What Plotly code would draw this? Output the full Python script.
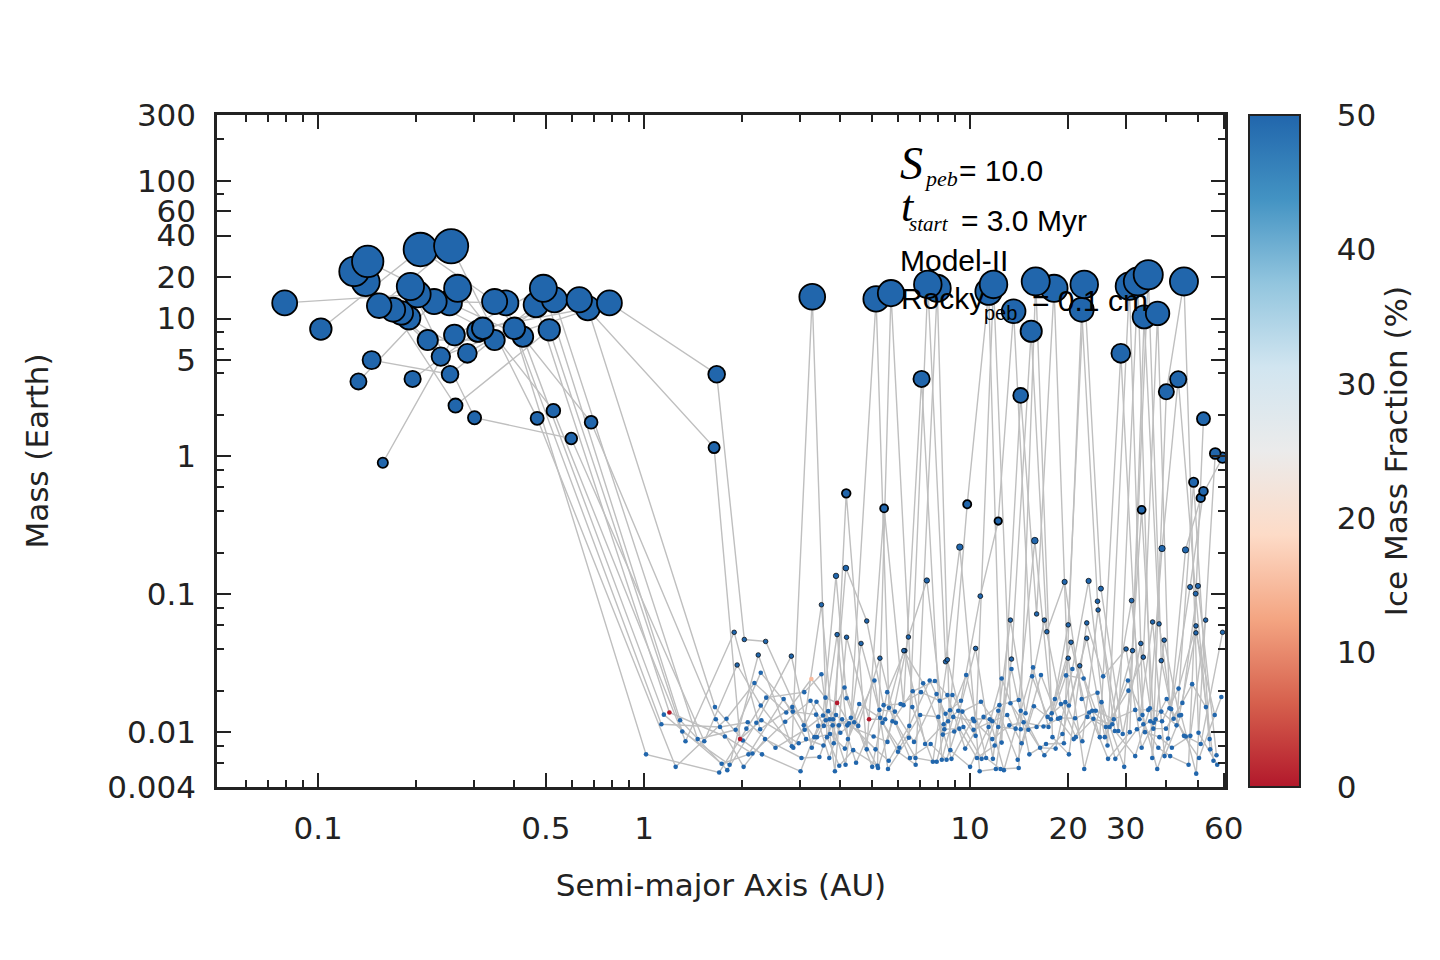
import numpy as np
import plotly.graph_objects as go

# final planets: semi-major axis (AU), mass (Earth), ice mass fraction (%)
inner_a = [0.079, 0.102, 0.129, 0.142, 0.140, 0.154, 0.206, 0.256, 0.146, 0.133, 0.158,
           0.192, 0.202, 0.180, 0.190, 0.170, 0.227, 0.268, 0.253, 0.195, 0.254, 0.264,
           0.302, 0.217, 0.238, 0.262, 0.287, 0.320, 0.348, 0.377, 0.309, 0.348, 0.400,
           0.425, 0.491, 0.466, 0.512, 0.531, 0.633, 0.672, 0.783, 0.470, 0.527, 0.598,
           0.688, 1.67, 1.64]
inner_m = [13.0, 8.4, 22, 26, 18.4, 12.4, 31.7, 33.5, 5.0, 3.5, 0.90,
           17.1, 15, 11, 10.1, 11.6, 13.3, 16.6, 13, 3.65, 3.95, 2.34,
           1.91, 7.0, 5.3, 7.6, 5.6, 8.5, 13.3, 13, 8.1, 7.0, 8.5,
           7.4, 16.6, 12.6, 8.3, 13.7, 13.7, 11.9, 13.0, 1.89, 2.15, 1.35,
           1.77, 3.95, 1.16]

outer_big_a = [3.28, 5.15, 5.72, 7.42, 7.93, 11.4, 11.8, 13.6, 15.4, 15.9, 18.1, 22.4,
               22.0, 30.8, 32.7, 35.2, 34.2, 37.6, 45.3, 29.0,
               7.1, 14.3, 40.0, 43.5, 52.0, 56.5, 59.5, 48.5, 52.0, 51.0, 4.17, 5.45,
               9.8, 12.2, 9.3, 15.8, 38.8, 45.8, 33.6]
outer_big_m = [14.4, 13.9, 15.3, 17.7, 16.6, 15.7, 17.7, 11.3, 8.1, 18.6, 16.6, 17.7,
               11.6, 17.2, 18.6, 20.8, 10.3, 10.9, 18.6, 5.6,
               3.65, 2.77, 2.95, 3.63, 1.88, 1.05, 0.98, 0.65, 0.56, 0.50, 0.54, 0.42,
               0.45, 0.34, 0.22, 0.245, 0.215, 0.21, 0.41]

mid_a = [3.88, 4.16, 7.37, 10.75, 19.5, 23.1, 25.2, 24.6, 24.7, 31.3, 47.3, 50.0, 49.2,
         3.5, 4.82, 52.8, 49.3, 49.3, 59.5, 13.3, 16.0, 16.9, 17.2, 20.0, 22.8, 22.8,
         36.3, 38.0, 31.5, 34.0, 59.0, 6.47, 6.31, 1.89, 3.91, 4.18]
mid_m = [0.136, 0.155, 0.126, 0.097, 0.123, 0.125, 0.11, 0.089, 0.077, 0.09, 0.113, 0.115, 0.101,
         0.084, 0.064, 0.065, 0.059, 0.0525, 0.053, 0.065, 0.072, 0.065, 0.0535, 0.060, 0.062, 0.048,
         0.063, 0.061, 0.039, 0.035, 0.018, 0.049, 0.039, 0.053, 0.051, 0.0488]

small_a = [1.014, 1.13, 1.15, 1.196, 1.25, 1.29, 1.31, 1.34, 1.46, 1.53, 1.65, 1.66, 1.70, 1.71,
           1.73, 1.77, 1.79, 1.80, 1.83, 1.91, 1.93, 1.97, 2.01, 2.02, 2.03, 2.06, 2.08, 2.09,
           2.15, 2.18, 2.21, 2.24, 2.28, 2.28, 2.29, 2.27, 2.30, 2.36, 2.35, 2.37, 2.53, 2.68,
           2.71, 2.73, 2.83, 2.84, 2.85, 2.86, 2.87, 2.98, 3.02, 3.04, 3.10, 3.09, 3.11, 3.14,
           3.24, 3.26, 3.27, 3.33, 3.38, 3.37, 3.39, 3.42, 3.45, 3.50, 3.54, 3.55, 3.56, 3.60,
           3.61, 3.64, 3.67, 3.70, 3.71, 3.72, 3.79, 3.80, 3.82, 3.85, 3.88, 3.91, 3.96, 3.97,
           4.00, 4.05, 4.12, 4.13, 4.15, 4.18, 4.20, 4.22, 4.25, 4.31, 4.38, 4.41, 4.47, 4.54,
           4.57, 4.63, 4.82, 4.90, 5.01, 5.06, 5.09, 5.13, 5.20, 5.22, 5.27, 5.29, 5.30, 5.39,
           5.43, 5.49, 5.57, 5.58, 5.60, 5.63, 5.64, 5.78, 5.88, 5.92, 6.01, 6.07, 6.12, 6.26,
           6.25, 6.49, 6.51, 6.54, 6.65, 6.67, 6.73, 6.81, 6.80, 7.03, 7.07, 7.18, 7.28, 7.52,
           7.57, 7.69, 7.80, 7.89, 7.99,
           7.90, 8.07, 8.19, 8.25, 8.30, 8.34, 8.41, 8.52, 8.41, 8.47, 8.52, 8.56, 8.68, 8.70,
           8.77, 8.83, 8.88, 8.94, 9.20, 9.27, 9.38, 9.47, 9.54, 9.66, 9.73, 10.2, 10.0, 10.25,
           10.3, 10.4, 10.4, 10.5, 10.7, 10.8, 10.85, 11.0, 11.2, 11.4, 11.5, 11.7, 11.7, 11.75,
           11.9, 12.0, 12.2, 12.2, 12.3, 12.4, 12.5, 12.5, 12.7, 13.0, 13.2, 13.3, 13.4, 13.4,
           13.8, 14.0, 14.1, 14.3, 14.3, 14.4, 14.1, 14.6, 14.8, 15.1, 15.2, 15.5, 15.6, 15.7,
           16.0, 16.4, 16.5, 16.8, 16.9, 17.1, 17.3, 17.4, 17.7, 17.8, 17.9, 18.2, 18.3, 18.6,
           18.9, 19.0, 19.2, 19.4, 19.6, 19.7, 20.0, 20.1, 20.1, 20.4, 20.6, 20.8, 21.0, 21.1,
           21.7, 22.0, 22.1, 22.3, 22.4, 22.9, 23.2, 23.7, 23.9, 24.3, 24.6, 25.0, 25.3, 25.6,
           25.9, 26.1, 26.4, 26.5, 26.8, 27.3, 27.6, 27.8, 27.9, 28.5, 29.4, 29.7, 30.1, 30.5,
           30.6, 30.9, 32.1, 32.1, 32.5, 33.1, 33.4, 33.6, 33.8, 34.0, 34.4, 35.2, 35.6, 35.7,
           36.2, 36.5, 36.6, 37.1, 37.5, 37.8, 38.1, 38.6, 38.6, 38.8, 39.4, 39.5, 39.9, 40.1,
           40.5, 40.9, 41.1, 41.4, 41.6, 42.1, 43.0, 43.6, 43.8, 44.4, 44.8, 45.3, 45.9, 46.8,
           47.4, 48.0, 49.4, 50.2, 50.4, 51.0, 52.9, 54.3, 54.5, 55.8, 56.3, 57.0, 57.3]
small_m = [0.0069, 0.0114, 0.0134, 0.0139, 0.0056, 0.0122, 0.0101, 0.0086, 0.0089, 0.0086, 0.0152, 0.0124, 0.0051, 0.0109,
           0.0059, 0.0093, 0.0125, 0.0053, 0.0058, 0.0104, 0.0307, 0.0089, 0.0087, 0.0056, 0.047, 0.0106, 0.0118, 0.0069,
           0.0070, 0.0227, 0.0117, 0.0363, 0.027, 0.0156, 0.0122, 0.0105, 0.0069, 0.0455, 0.0089, 0.0178, 0.0077, 0.0174,
           0.0119, 0.0139, 0.0356, 0.0079, 0.0152, 0.0141, 0.0077, 0.0083, 0.0052, 0.0065, 0.0195, 0.0112, 0.0104, 0.0089,
           0.0169, 0.0243, 0.0077, 0.0092, 0.0166, 0.0134, 0.0092, 0.0111, 0.0066, 0.0263, 0.0132, 0.0080, 0.0111, 0.0178,
           0.0122, 0.0092, 0.0142, 0.0065, 0.0124, 0.0097, 0.0112, 0.0124, 0.0083, 0.0052, 0.0133, 0.0163, 0.0112, 0.0057,
           0.0099, 0.0124, 0.0211, 0.0076, 0.0058, 0.0176, 0.0112, 0.0089, 0.0116, 0.0127, 0.0074, 0.0118, 0.0060, 0.0111,
           0.0160, 0.044, 0.0075, 0.0124, 0.0056, 0.0093, 0.0237, 0.0075, 0.0057, 0.0055, 0.0145, 0.0344, 0.0127, 0.0117,
           0.0157, 0.0124, 0.0195, 0.0085, 0.0054, 0.0062, 0.0150, 0.0120, 0.0141, 0.0117, 0.0072, 0.0077, 0.0160, 0.039,
           0.0157, 0.0091, 0.0111, 0.0065, 0.0152, 0.0198, 0.0085, 0.0058, 0.0065, 0.0133, 0.0195, 0.0226, 0.0082, 0.0237,
           0.0082, 0.0061, 0.0235, 0.0189, 0.0129,
           0.0061, 0.0169, 0.0063, 0.0096, 0.0114, 0.0105, 0.0324, 0.0335, 0.0136, 0.0063, 0.0186, 0.0120, 0.0144, 0.0074,
           0.0064, 0.0186, 0.0129, 0.0101, 0.0143, 0.0106, 0.0169, 0.0141, 0.0109, 0.0076, 0.026, 0.0125, 0.0056, 0.0104,
           0.0120, 0.0405, 0.0094, 0.0065, 0.0052, 0.0166, 0.0064, 0.0129, 0.0065, 0.0109, 0.0124, 0.0120, 0.0089, 0.0064,
           0.0080, 0.0054, 0.0109, 0.0143, 0.0157, 0.0054, 0.0084, 0.0245, 0.0053, 0.0133, 0.0112, 0.0162, 0.0287, 0.0339,
           0.0106, 0.0063, 0.0171, 0.0105, 0.0143, 0.0083, 0.0055, 0.0118, 0.0137, 0.0104, 0.0069, 0.0254, 0.0295, 0.0154,
           0.0109, 0.0077, 0.026, 0.0110, 0.0068, 0.0082, 0.0129, 0.0109, 0.0124, 0.0137, 0.0092, 0.0174, 0.0076, 0.0125,
           0.0127, 0.016, 0.0097, 0.0083, 0.0165, 0.0258, 0.0344, 0.0069, 0.0156, 0.0449, 0.0287, 0.0089, 0.0126, 0.0092,
           0.0303, 0.0174, 0.0086, 0.0245, 0.0054, 0.0129, 0.0139, 0.0143, 0.0125, 0.0143, 0.0193, 0.0092, 0.0165, 0.0254,
           0.0092, 0.0109, 0.0080, 0.0064, 0.0109, 0.0114, 0.0124, 0.0102, 0.0064, 0.0102, 0.0097, 0.0056, 0.0401, 0.0237,
           0.0200, 0.0100, 0.0145, 0.0067, 0.0105, 0.0124, 0.044, 0.0077, 0.0133, 0.0114, 0.0100, 0.0145, 0.0149, 0.0120,
           0.0065, 0.0106, 0.0117, 0.0124, 0.0054, 0.0077, 0.0092, 0.033, 0.0141, 0.0120, 0.0465, 0.0067, 0.0106, 0.0174,
           0.0090, 0.0149, 0.0067, 0.0147, 0.0077, 0.0125, 0.0112, 0.0207, 0.0132, 0.0133, 0.0163, 0.0094, 0.0093, 0.0058,
           0.0094, 0.0223, 0.0050, 0.0099, 0.0065, 0.0082, 0.0152, 0.0089, 0.0075, 0.0062, 0.0133, 0.0068, 0.0058]

# the few rocky bodies (everything else is at 50 % ice)
rocky_a = [1.196, 1.97, 3.26, 3.91, 4.90]
rocky_m = [0.0139, 0.0089, 0.0243, 0.0163, 0.0124]
rocky_ice = [0.0, 0.0, 15.0, 0.0, 0.0]

a = np.array(inner_a + outer_big_a + mid_a + small_a)
m = np.array(inner_m + outer_big_m + mid_m + small_m)
ice = np.full(len(a), 50.0)
for ra, rm, ri in zip(rocky_a, rocky_m, rocky_ice):
    k = np.argmin(np.abs(np.log10(a / ra)) + np.abs(np.log10(m / rm)))
    ice[k] = ri

# connecting lines: split the planets into runs and join each run in order of a
N_RUNS = 14
order = np.argsort(a, kind='stable')
run = np.empty(len(a), dtype=int)
run[order] = np.arange(len(a)) % N_RUNS
lx, ly = [], []
for r in range(N_RUNS):
    idx = order[run[order] == r]
    lx += list(a[idx]) + [None]
    ly += list(m[idx]) + [None]

size = np.maximum(4.6, 10.6 * np.cbrt(m))
edge = np.where(m > 0.3, 1.8, np.where(m > 0.03, 0.7, 0.0))
draw = np.argsort(m, kind='stable')

colorscale = [[0.0, '#b2182b'], [0.125, '#d6604d'], [0.25, '#f4a582'], [0.375, '#fddbc7'],
              [0.5, '#ebebeb'], [0.625, '#d1e5f0'], [0.75, '#92c5de'], [0.875, '#4393c3'],
              [1.0, '#2166ac']]

# plot frame in page pixels (the page body adds an 8 px offset)
OFF = 8
L, R, T, B = 217, 1225, 115, 787
W, H = 1440, 960


def px(xp):
    return (xp - L) / (R - L)


def py(yp):
    return (B - yp) / (B - T)


fig = go.Figure()
fig.add_trace(go.Scatter(
    x=lx, y=ly, mode='lines',
    line=dict(color='#bfbfbf', width=1.4),
    hoverinfo='skip', showlegend=False,
))
fig.add_trace(go.Scatter(
    x=a[draw], y=m[draw], mode='markers',
    marker=dict(
        size=size[draw], color=ice[draw], cmin=0, cmax=50,
        colorscale=colorscale, opacity=1,
        line=dict(color='black', width=edge[draw]),
        colorbar=dict(
            x=px(1249), xanchor='left', y=0.5, yanchor='middle',
            len=1, lenmode='fraction', thickness=51, ypad=0, xpad=0,
            outlinewidth=2, outlinecolor='#222',
            tickmode='array', tickvals=[0, 10, 20, 30, 40, 50],
            ticks='outside', ticklen=30, tickcolor='rgba(0,0,0,0)',
            tickfont=dict(family='DejaVu Sans', size=31, color='#222'),
            title=dict(text='Ice Mass Fraction (%)', side='right',
                       font=dict(family='DejaVu Sans', size=31, color='#222')),
        ),
    ),
    showlegend=False,
))

axis_font = dict(family='DejaVu Sans', size=31, color='#222')
common = dict(
    type='log', showgrid=False, zeroline=False,
    showline=True, linewidth=2.5, linecolor='#222', mirror='allticks',
    ticks='inside', ticklen=14, tickwidth=2, tickcolor='#222',
    tickfont=axis_font, automargin=False, tickmode='array',
)

fig.update_layout(
    width=W, height=H,
    margin=dict(l=L - OFF, r=W - R + OFF, t=T - OFF, b=H - B + OFF),
    paper_bgcolor='white', plot_bgcolor='white',
    xaxis=dict(
        common,
        range=[-1.31, 1.782],
        tickvals=[0.1, 0.5, 1, 10, 20, 30, 60],
        ticktext=['0.1', '0.5', '1', '10', '20', '30', '60'],
        minor=dict(ticks='inside', ticklen=7, tickwidth=2, tickcolor='#222',
                   tickmode='array',
                   tickvals=[0.06, 0.07, 0.08, 0.09, 0.2, 0.3, 0.4, 0.6, 0.7, 0.8, 0.9,
                             2, 3, 4, 5, 6, 7, 8, 9, 40, 50]),
        ticklabelstandoff=12,
        title=dict(text='Semi-major Axis (AU)', font=axis_font, standoff=30),
    ),
    yaxis=dict(
        common,
        range=[np.log10(0.004), np.log10(300)],
        tickvals=[0.004, 0.01, 0.1, 1, 5, 10, 20, 40, 60, 100, 300],
        ticktext=['0.004', '0.01', '0.1', '1', '5', '10', '20', '40', '60', '100', '300'],
        minor=dict(ticks='inside', ticklen=7, tickwidth=2, tickcolor='#222',
                   tickmode='array',
                   tickvals=[0.006, 0.008, 0.02, 0.04, 0.06, 0.08, 0.2, 0.4, 0.6, 0.8,
                             2, 4, 6, 8, 80, 200]),
        ticklabelstandoff=12,
        title=dict(text='Mass (Earth)', font=axis_font, standoff=50),
    ),
)

# tick dashes on both edges of the colour bar
cb_left, cb_right = px(1249), px(1300)
for v in [10, 20, 30, 40]:
    for x0, x1 in [(cb_left, cb_left + 13 / (R - L)), (cb_right - 13 / (R - L), cb_right)]:
        fig.add_shape(type='line', xref='paper', yref='paper', x0=x0, x1=x1,
                      y0=v / 50, y1=v / 50, line=dict(color='#222', width=2))

serif = 'Liberation Serif'
sans = 'Liberation Sans'
labels = [
    ('<i>S</i>', 899, 164, serif, 46),
    ('<i>peb</i>', 923, 178, serif, 22),
    ('= 10.0', 958, 170, sans, 30),
    ('<i>t</i>', 900, 207, serif, 44),
    ('<i>start</i>', 908, 224, serif, 21),
    ('= 3.0 Myr', 960, 220, sans, 30),
    ('Model-II', 899, 260, sans, 30),
    ('Rocky', 900, 298, sans, 30),
    ('peb', 983, 313, sans, 20),
    ('= 0.1 cm', 1031, 300, sans, 30),
]
for text, xp, yp, fam, fs in labels:
    fig.add_annotation(text=text, xref='paper', yref='paper', x=px(xp), y=py(yp),
                       xanchor='left', yanchor='middle', showarrow=False,
                       font=dict(family=fam, size=fs, color='black'), borderpad=0)

fig.write_html("out.html")
